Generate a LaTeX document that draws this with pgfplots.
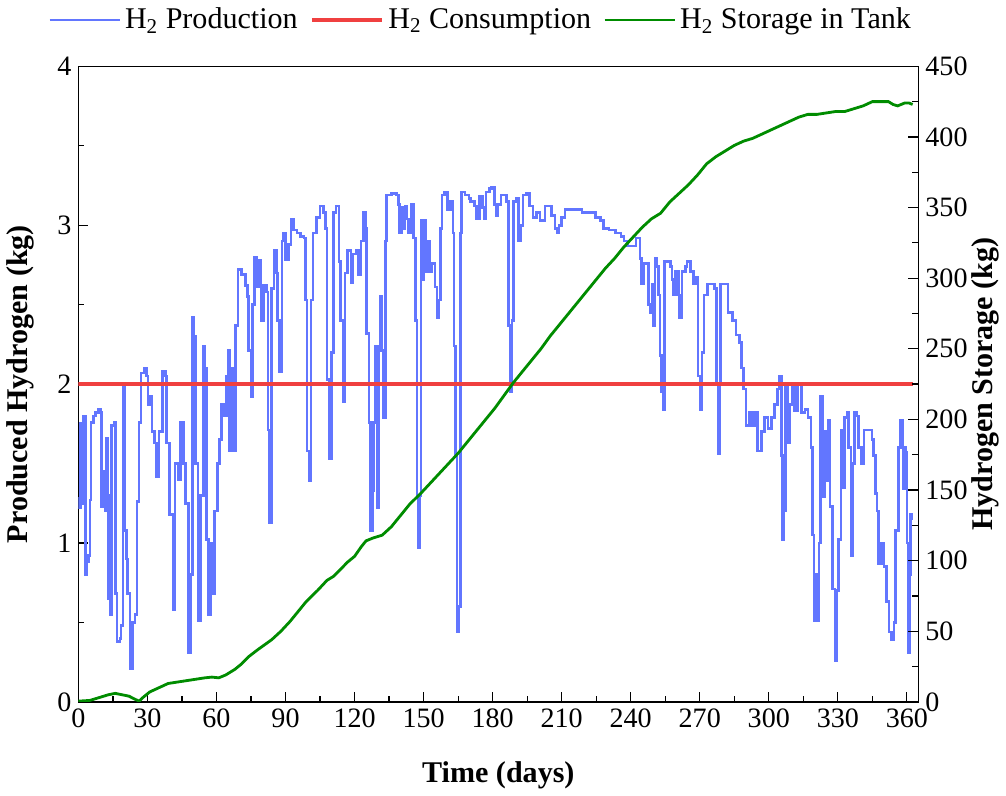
\documentclass[border=0pt]{standalone}
\usepackage{fontspec}
\setmainfont{Liberation Serif}
\usepackage{pgfplots}
\pgfplotsset{compat=1.18}

\definecolor{prodblue}{RGB}{98,118,255}
\definecolor{consred}{RGB}{240,64,64}
\definecolor{storgreen}{RGB}{0,140,0}

\pgfplotsset{
  common/.style={
    width=419pt, height=317pt, scale only axis,
    xmin=0, xmax=365,
    xtick={0,30,...,360}, minor x tick num=1,
    tick align=inside,
    major tick length=5pt, minor tick length=3pt,
    tick style={black, line width=0.6pt},
    ticklabel style={font=\fontsize{14}{16}\selectfont},
    /pgf/number format/assume math mode=true,
    axis line style={line width=0.7pt},
    label style={font=\fontsize{15}{18}\selectfont\bfseries},
  }
}

\begin{document}
\begin{tikzpicture}
\begin{axis}[common,
  ymin=0, ymax=4, ytick={0,1,2,3,4}, minor y tick num=1,
  xtick pos=bottom, ytick pos=left,
  xlabel={Time (days)},
  ylabel={Produced Hydrogen (kg)},
  xlabel style={at={(axis description cs:0.5,-0.115)}, anchor=center},
  ylabel style={at={(axis description cs:-0.069,0.5)}, anchor=center, rotate=0},
]
% H2 production
\addplot[prodblue, line width=1.3pt, const plot] coordinates {
(0,1.28) (0.6,1.22) (1,1.75) (1.5,1.25) (2,1.80) (2.8,1.80) (3,0.80) (3.8,0.88)
(4.4,0.92) (5,1.27) (5.5,1.76) (6.5,1.80) (7.5,1.82) (8.5,1.84) (9.5,1.82) (10,1.23)
(10.6,1.45) (11,1.28) (11.6,1.20) (12.3,1.66) (12.8,1.30) (13.2,0.65) (14,0.55) (14.5,1.74)
(15.5,1.76) (16,0.68) (16.8,0.38) (18,0.40) (18.6,0.48) (19.4,2.0) (20,1.08) (20.8,0.90)
(21.4,0.68) (22.5,0.21) (23.5,0.50) (24.6,0.55) (25.4,1.26) (26.3,1.76) (27.2,2.07) (28.5,2.10)
(29.5,2.05) (30.2,1.87) (31.2,1.92) (32,1.70) (33,1.63) (34,1.42) (35,1.70) (36.5,2.08)
(37.8,2.05) (38.4,1.63) (39.7,1.18) (41.2,0.58) (42,1.50) (43.4,1.40) (44.5,1.76) (45.6,1.50)
(46.5,1.25) (47.8,0.31) (48.7,0.80) (49.5,2.42) (50.3,2.30) (51,1.50) (52,0.51) (53,1.30)
(54.3,2.24) (55,2.10) (55.6,1.02) (56.5,0.55) (57.5,1.00) (58.4,0.68) (59.2,1.20) (60.4,1.50)
(61.2,1.65) (62.3,1.87) (63.5,1.80) (64.4,2.05) (65,2.21) (65.6,1.58) (66.5,2.10) (67.5,1.58)
(68.4,2.37) (69.4,2.72) (71,2.69) (72.5,2.62) (73.5,2.55) (74,2.21) (75,1.92) (75.6,2.50)
(76.5,2.80) (77.5,2.61) (78.5,2.78) (79.4,2.40) (80.4,2.62) (81.8,2.58) (82.4,1.71) (83,1.13)
(83.8,2.60) (85,2.84) (86,2.70) (86.6,2.40) (87.5,2.08) (88.5,2.90) (89.2,2.95) (90,2.78)
(91.4,2.88) (92.4,3.04) (93.5,2.97) (95,2.95) (96.5,2.93) (98,2.92) (98.6,2.53) (99.4,1.58)
(100.4,1.39) (101,2.53) (102,2.95) (103.5,3.05) (105,3.12) (106.5,3.08) (107.4,2.98) (108,2.03)
(109,1.53) (110,2.20) (110.8,3.08) (112,3.12) (113.2,2.77) (114,2.40) (115,1.89) (115.8,2.70)
(117,2.84) (118.4,2.64) (119.4,2.82) (120.6,2.84) (121.8,2.69) (122.8,2.90) (123.8,3.08) (124.8,2.98)
(125.2,2.32) (126.2,1.76) (126.9,1.08) (127.8,1.33) (128.3,1.76) (128.9,2.24) (129.8,1.22) (130.4,2.24)
(131,2.55) (131.7,2.21) (132.6,1.79) (133.4,2.90) (133.9,3.19) (136,3.20) (138.2,3.19) (139,3.13)
(139.6,2.95) (140.5,3.11) (141.2,2.98) (142,3.12) (142.7,3.04) (143.4,2.95) (144.5,3.13) (145.6,2.92)
(146.5,2.40) (147.2,1.30) (147.8,0.97) (148.4,1.30) (148.8,3.03) (149.4,2.66) (150,3.03) (150.7,2.71)
(151.5,2.90) (152.6,2.71) (153.6,2.76) (155,2.61) (155.9,2.42) (156.6,2.53) (157.3,2.98) (158,3.19)
(159.1,3.21) (160.3,3.10) (161.7,3.15) (162.8,2.95) (163.2,2.24) (163.9,1.55) (164.6,0.44) (165.3,0.60)
(166,2.95) (166.6,3.21) (168,3.19) (169.8,3.17) (170.5,3.15) (172,3.12) (173.1,3.04) (174.2,3.18)
(175.6,3.11) (176.3,3.04) (177.1,3.21) (178.6,3.23) (179.6,3.24) (180.8,3.13) (181.5,3.06) (182.3,3.13)
(183.7,3.19) (185.9,3.15) (186.9,2.37) (187.8,1.95) (188.4,2.40) (189,3.15) (190.3,3.17) (191.3,2.90)
(192.2,3.00) (193.2,3.19) (194.7,3.20) (196.1,3.12) (197.6,3.05) (199.1,3.08) (200.5,3.03) (202.7,3.12)
(204.2,3.12) (205.7,3.06) (207.1,2.98) (208.1,2.95) (208.8,3.00) (210,3.05) (211.5,3.10) (214.4,3.10)
(218.8,3.08) (223.2,3.08) (224.7,3.05) (226.9,3.03) (228.3,2.98) (230.5,2.97) (233.5,2.95) (235.7,2.93)
(237.1,2.90) (238.6,2.87) (240.8,2.87) (242.3,2.92) (243.3,2.92) (244,2.79) (244.6,2.63) (245.5,2.76)
(247,2.76) (247.7,2.50) (248.4,2.45) (249.2,2.63) (249.6,2.37) (250.6,2.79) (251.3,2.74) (252.1,2.56)
(252.8,2.18) (253.4,1.95) (254,1.84) (254.6,2.77) (255.7,2.77) (257.2,2.74) (257.9,2.66) (258.7,2.56)
(259.4,2.71) (260.8,2.56) (261.3,2.42) (262.3,2.71) (263.8,2.74) (264.5,2.77) (266,2.71) (267.4,2.63)
(268.6,2.67) (269.3,2.05) (270.4,1.84) (271,2.20) (271.8,2.56) (273.3,2.63) (275.5,2.63) (276.5,2.60)
(277.2,2.00) (278.1,1.56) (278.6,2.00) (279.1,2.63) (281.3,2.63) (282.3,2.45) (284.2,2.40) (285.7,2.31)
(287.2,2.26) (288.2,2.10) (289.1,1.97) (290.1,1.74) (291.5,1.82) (293,1.74) (294,1.82) (295.2,1.58)
(296.7,1.70) (298.1,1.79) (299.6,1.72) (301.1,1.79) (302.5,1.87) (303.7,1.97) (304.7,2.05) (305.4,1.55)
(305.9,1.02) (306.5,1.20) (307.2,2.00) (308.1,1.63) (309.1,1.87) (310.1,2.00) (311.3,1.83) (312.5,2.00)
(313.4,2.00) (314.2,1.82) (315.7,1.84) (317.1,1.79) (318.3,1.60) (318.9,1.05) (319.6,0.51) (320.4,0.80)
(321.2,0.51) (321.8,1.00) (322.4,1.92) (323.3,1.29) (324.2,1.70) (325.2,1.39) (325.9,1.77) (326.6,1.23)
(327.7,0.71) (328.8,0.26) (329.5,0.70) (330.3,1.02) (331.3,1.71) (332.1,1.35) (332.9,1.79) (333.9,1.82)
(334.7,1.60) (335.7,0.92) (336.4,1.50) (337.3,1.82) (338.3,1.80) (339.1,1.60) (340.2,1.50) (341.3,1.71)
(343.5,1.71) (344.9,1.65) (345.6,1.55) (346.3,1.31) (347.1,1.20) (347.8,0.87) (349,1.00) (350,0.85)
(351.1,0.63) (352.2,0.44) (353.4,0.39) (354.4,0.50) (355.1,1.08) (356.3,1.60) (357.3,1.77) (358.4,1.34)
(359,1.60) (359.5,1.57) (360.1,1.00) (360.7,0.31) (361.3,0.80) (361.7,1.18) (362.2,1.15) (362.5,1.15)
};
% H2 consumption
\addplot[consred, line width=2.2pt] coordinates {(0,2) (362.5,2)};
\end{axis}

\begin{axis}[common,
  ymin=0, ymax=450, ytick={0,50,...,450}, minor y tick num=1,
  hide x axis, axis y line*=right,
  ylabel={Hydrogen Storage (kg)},
  ylabel style={at={(axis description cs:1.080,0.5)}, anchor=center, rotate=0},
  legend style={draw=none, fill=none, at={(axis description cs:0.48,1.073)}, anchor=center,
    font=\fontsize{15}{18}\selectfont, legend columns=3,
    /tikz/every even column/.append style={column sep=4pt}},
  legend image code/.code={\draw[#1] (0pt,0pt) -- (35pt,0pt);},
]
\addlegendimage{prodblue, line width=1.3pt}
\addlegendentry{H\textsubscript{2} Production}
\addlegendimage{consred, line width=2.2pt}
\addlegendentry{H\textsubscript{2} Consumption}
% H2 storage in tank
\addplot[storgreen, line width=1.4pt] coordinates {
(0,0.5) (5,1) (9,3) (13,5) (16,6) (19,5) (22,4) (25,1.5) (26.5,0.5) (28,3) (31,7) (35,10)
(39,13) (43,14) (47,15) (51,16) (55,17) (58,17.5) (61,17) (64,19) (68,23) (71,27) (74,32) (78,37)
(84,44) (88,50) (92,57) (96,65) (99,71) (104,79) (108,86) (111,89) (114,94) (117,99) (120,103) (123,110)
(125,114) (128,116) (132,118) (136,124) (140,132) (144,140) (149,148) (153,155) (157,162) (161,169) (165,176) (169,184)
(173,192) (177,200) (181,208) (185,217) (189,226) (193,234) (197,242) (201,250) (205,259) (209,267) (213,275) (217,283)
(221,291) (225,299) (229,307) (233,314) (237,322) (241,329) (245,336) (249,342) (253,346) (257,354) (261,360) (265,366)
(269,373) (273,381) (277,386) (281,390) (285,394) (289,397) (293,399) (297,402) (301,405) (305,408) (309,411) (313,414)
(317,416) (321,416) (325,417) (329,418) (333,418) (337,420) (341,422) (345,425) (349,425) (352,425) (354,423) (356,422)
(359,424) (361,424) (362.5,423)
};
\addlegendentry{H\textsubscript{2} Storage in Tank}
\end{axis}
\end{tikzpicture}
\end{document}
